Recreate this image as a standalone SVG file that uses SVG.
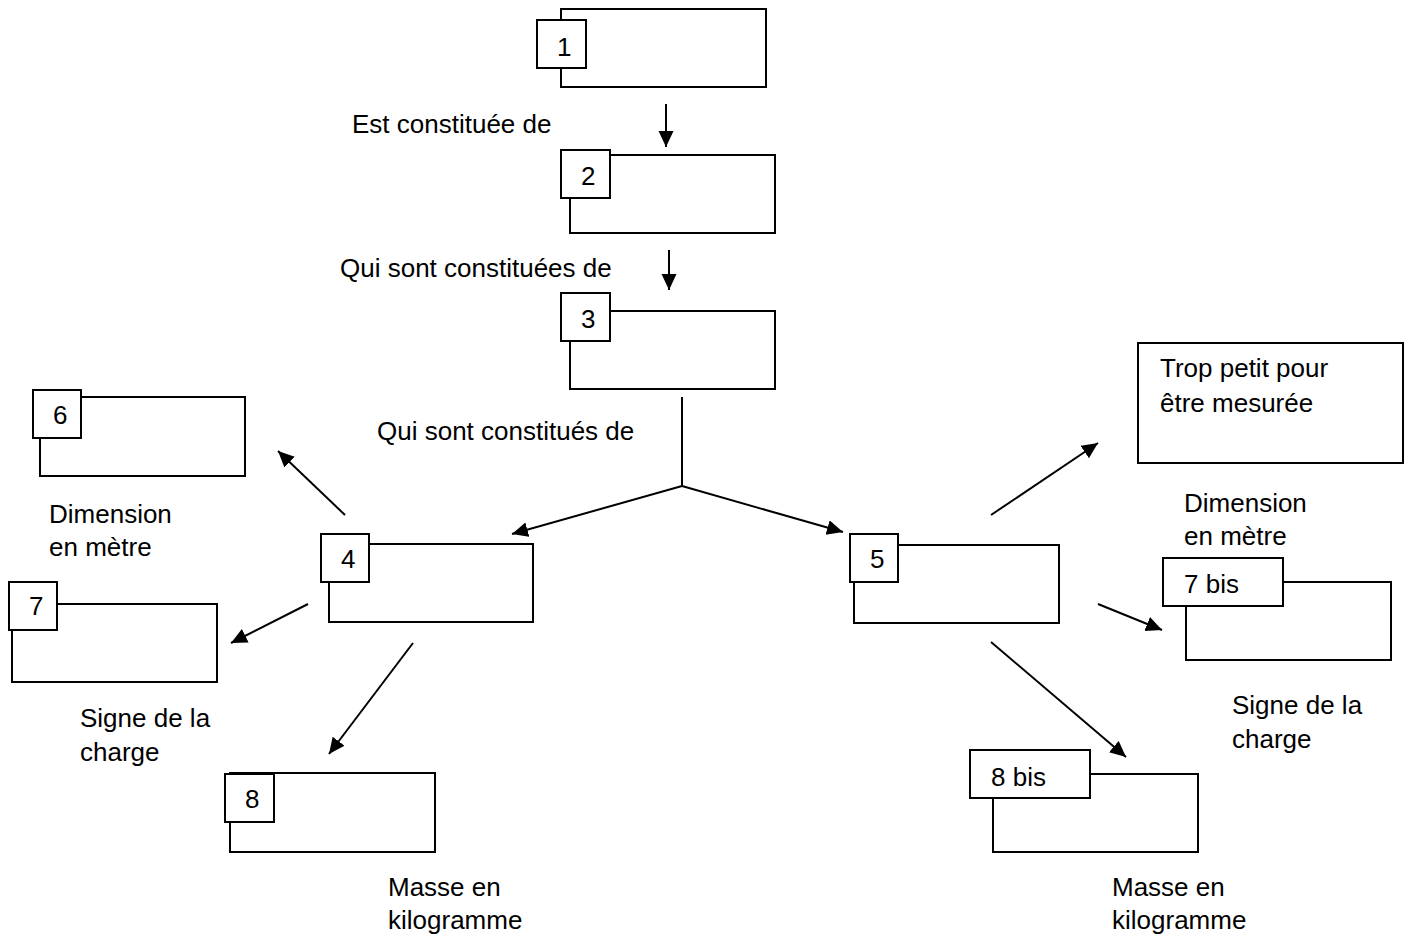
<svg xmlns="http://www.w3.org/2000/svg" width="1409" height="938" viewBox="0 0 1409 938">
<style>
.box{fill:#fff;stroke:#000;stroke-width:2}
.t{font-family:"Liberation Sans",Arial,sans-serif;font-size:26px;fill:#000}
.c{stroke:#000;stroke-width:2;fill:none}
.ca{stroke:#000;stroke-width:2;fill:none;marker-end:url(#ah)}
</style>
<defs>
<marker id="ah" markerUnits="userSpaceOnUse" markerWidth="18" markerHeight="16" refX="16" refY="7.5" orient="auto" viewBox="0 0 18 16">
<path d="M0,0 L16,7.5 L0,15 z" fill="#000"/>
</marker>
</defs>
<rect width="1409" height="938" fill="#fff"/>
<g id="connectors">
<line class="ca" x1="666" y1="104" x2="666" y2="147"/>
<line class="ca" x1="669" y1="250" x2="669" y2="290"/>
<line class="c" x1="682" y1="397" x2="682" y2="486"/>
<line class="ca" x1="682" y1="486" x2="512" y2="534"/>
<line class="ca" x1="682" y1="486" x2="843" y2="532"/>
<line class="ca" x1="345" y1="515" x2="278" y2="451"/>
<line class="ca" x1="308" y1="604" x2="231" y2="643"/>
<line class="ca" x1="413" y1="643" x2="329" y2="754"/>
<line class="ca" x1="991" y1="515" x2="1098" y2="443"/>
<line class="ca" x1="1098" y1="604" x2="1162" y2="630"/>
<line class="ca" x1="991" y1="642" x2="1126" y2="757"/>
</g>
<g id="labels">
<text class="t" x="352" y="133">Est constituée de</text>
<text class="t" x="340" y="277">Qui sont constituées de</text>
<text class="t" x="377" y="440">Qui sont constitués de</text>
<text class="t" x="49" y="523">Dimension</text>
<text class="t" x="49" y="556">en mètre</text>
<text class="t" x="80" y="727">Signe de la</text>
<text class="t" x="80" y="761">charge</text>
<text class="t" x="388" y="896">Masse en</text>
<text class="t" x="388" y="929">kilogramme</text>
<text class="t" x="1184" y="512">Dimension</text>
<text class="t" x="1184" y="545">en mètre</text>
<text class="t" x="1232" y="714">Signe de la</text>
<text class="t" x="1232" y="748">charge</text>
<text class="t" x="1112" y="896">Masse en</text>
<text class="t" x="1112" y="929">kilogramme</text>
</g>
<g id="n1"><rect class="box" x="561" y="9" width="205" height="78"/><rect class="box" x="537" y="20" width="49" height="48"/><text class="t" x="557" y="56">1</text></g>
<g id="n2"><rect class="box" x="570" y="155" width="205" height="78"/><rect class="box" x="561" y="150" width="49" height="48"/><text class="t" x="581" y="185">2</text></g>
<g id="n3"><rect class="box" x="570" y="311" width="205" height="78"/><rect class="box" x="561" y="293" width="49" height="48"/><text class="t" x="581" y="328">3</text></g>
<g id="n4"><rect class="box" x="329" y="544" width="204" height="78"/><rect class="box" x="321" y="534" width="48" height="48"/><text class="t" x="341" y="568">4</text></g>
<g id="n5"><rect class="box" x="854" y="545" width="205" height="78"/><rect class="box" x="850" y="534" width="48" height="48"/><text class="t" x="870" y="568">5</text></g>
<g id="n6"><rect class="box" x="40" y="397" width="205" height="79"/><rect class="box" x="33" y="390" width="48" height="48"/><text class="t" x="53" y="424">6</text></g>
<g id="n7"><rect class="box" x="12" y="604" width="205" height="78"/><rect class="box" x="9" y="582" width="48" height="48"/><text class="t" x="29" y="615">7</text></g>
<g id="n8"><rect class="box" x="230" y="773" width="205" height="79"/><rect class="box" x="225" y="774" width="49" height="48"/><text class="t" x="245" y="808">8</text></g>
<g id="n7bis"><rect class="box" x="1186" y="582" width="205" height="78"/><rect class="box" x="1163" y="558" width="120" height="48"/><text class="t" x="1184" y="593">7 bis</text></g>
<g id="n8bis"><rect class="box" x="993" y="774" width="205" height="78"/><rect class="box" x="970" y="750" width="120" height="48"/><text class="t" x="991" y="786">8 bis</text></g>
<g id="trop"><rect class="box" x="1138" y="343" width="265" height="120"/><text class="t" x="1160" y="377">Trop petit pour</text><text class="t" x="1160" y="412">être mesurée</text></g>
</svg>
